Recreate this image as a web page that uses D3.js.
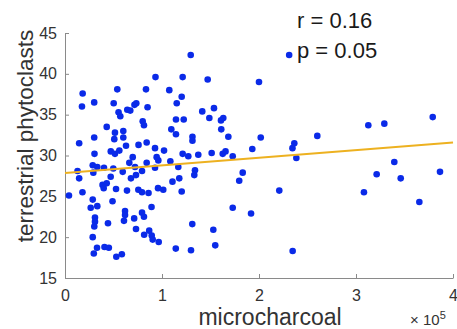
<!DOCTYPE html>
<html><head><meta charset="utf-8">
<script src="https://cdn.jsdelivr.net/npm/d3@7"></script>
<style>body{margin:0;background:#fff}svg{display:block}text{font-family:"Liberation Sans",Arial,sans-serif}</style>
</head><body>
<script>
const microcharcoal = [18200,17500,30100,53900,50200,55200,57000,64200,67300,71600,73500,43000,51500,60100,60100,50800,62900,14600,30100,75800,47200,51500,56000,30400,69800,28600,33300,40200,49800,59500,66300,72200,12900,29200,14600,47100,68000,73200,79400,84200,92800,96200,38700,43000,39900,52600,63900,75600,79400,86100,95900,101300,4100,18000,28600,49000,26500,33300,61900,61900,60800,71300,79400,81400,89200,30900,30900,30200,44300,73200,81600,86800,89400,90400,96600,28600,33000,29700,40700,45200,52900,58600,80100,81400,83500,93300,85100,84200,92800,102100,94500,107500,121300,129600,147100,120300,115200,141500,153600,148800,163200,160800,114400,122400,109600,114400,131400,131400,161100,168400,121300,127100,137400,151200,162600,165500,172900,108600,116800,134000,133300,117800,110800,120300,172900,191800,131200,152900,154900,114200,129900,183200,179600,220900,234700,200000,231100,201800,193100,236400,234500,238500,260100,312700,329200,379100,339500,321300,346100,386600,308200,365300];
const phytoclasts = [37.6,36.0,36.5,38.1,36.4,35.3,34.8,35.6,35.5,36.2,36.4,33.5,32.8,33.0,32.2,32.0,31.2,31.5,32.2,31.3,30.5,30.2,30.6,30.2,29.8,28.8,28.6,28.5,28.4,28.0,29.1,28.6,28.1,27.9,27.2,27.4,27.2,27.6,28.1,29.1,28.5,29.4,26.4,26.6,26.0,25.9,25.7,25.8,25.5,25.4,26.0,25.8,25.1,25.5,24.6,24.4,23.6,23.8,23.2,22.7,22.0,22.3,23.0,22.5,23.7,22.4,21.9,21.3,21.7,21.0,20.3,20.8,20.2,19.7,19.4,20.0,18.7,18.0,18.8,18.7,17.6,17.9,34.2,33.7,38.1,39.6,35.9,31.6,30.9,30.6,29.8,38.0,39.6,42.3,39.3,37.2,36.4,35.4,35.8,34.6,34.6,34.3,34.4,34.4,33.2,32.6,32.3,31.8,33.2,32.3,30.2,29.9,30.1,30.3,30.2,30.5,29.9,29.3,28.6,28.2,27.6,27.2,26.8,25.6,23.6,22.9,21.6,20.9,19.0,18.6,18.4,27.9,26.9,25.7,18.3,39.0,42.3,32.2,30.8,31.5,30.9,29.7,32.4,33.7,33.9,34.7,29.2,27.7,27.2,28.0,25.5,24.3];
const xTicks = [0,100000,200000,300000,400000];
const xTickLabels = ["0","1","2","3","4"];
const yTicks = [15,20,25,30,35,40,45];
const fitLineX = [0,400000];
const fitLineY = [27.85,31.6];
const statLabels = ["r = 0.16","p = 0.05"];
const xLabel = "microcharcoal";
const yLabel = "terrestrial phytoclasts";

const W=457,H=329, L=65, R=453, T=33, B=278;
const svg=d3.select("body").append("svg").attr("width",W).attr("height",H);
svg.append("rect").attr("width",W).attr("height",H).attr("fill","#fff");
const x=d3.scaleLinear().domain([0,400000]).range([L,R]);
const y=d3.scaleLinear().domain([15,45]).range([B,T]);
const axColor="#8a8a8a", txtColor="#333";

const xa=svg.append("g").attr("transform",`translate(0,${B})`)
  .call(d3.axisBottom(x).tickValues(xTicks).tickFormat((d,i)=>xTickLabels[i]).tickSizeInner(-4).tickSizeOuter(0).tickPadding(12));
const ya=svg.append("g").attr("transform",`translate(${L},0)`)
  .call(d3.axisLeft(y).tickValues(yTicks).tickSizeInner(-4).tickSizeOuter(0).tickPadding(8));
[xa,ya].forEach(g=>{
  g.select(".domain").attr("stroke",axColor).attr("stroke-width",1);
  g.selectAll(".tick line").attr("stroke",axColor);
  g.selectAll(".tick text").attr("fill",txtColor).style("font-size","16px").style("font-family","Liberation Sans, Arial, sans-serif");
});

svg.append("g").selectAll("circle").data(microcharcoal.map((m,i)=>[m,phytoclasts[i]])).join("circle")
  .attr("cx",d=>x(d[0])).attr("cy",d=>y(d[1])).attr("r",3.3).attr("fill","#0a2ae8");

svg.append("path").datum(fitLineX.map((v,i)=>[v,fitLineY[i]]))
  .attr("d",d3.line().x(d=>x(d[0])).y(d=>y(d[1])))
  .attr("stroke","#EDB120").attr("stroke-width",2).attr("fill","none");

svg.selectAll("text.stat").data(statLabels).join("text").attr("class","stat")
  .attr("x",297).attr("y",(d,i)=>28+i*29.5).attr("fill","#1a1a1a").style("font-size","22px").text(d=>d);

svg.append("text").attr("x",270).attr("y",325).attr("text-anchor","middle").attr("fill",txtColor).style("font-size","23px").text(xLabel);
svg.append("text").attr("transform","translate(33,136) rotate(-90)").attr("text-anchor","middle").attr("fill",txtColor).style("font-size","22.5px").text(yLabel);

const ex=svg.append("text").attr("x",410).attr("y",325).attr("fill",txtColor).style("font-size","15px");
ex.append("tspan").text("× 10");
ex.append("tspan").attr("dy",-6).style("font-size","11px").text("5");
</script>
</body></html>
